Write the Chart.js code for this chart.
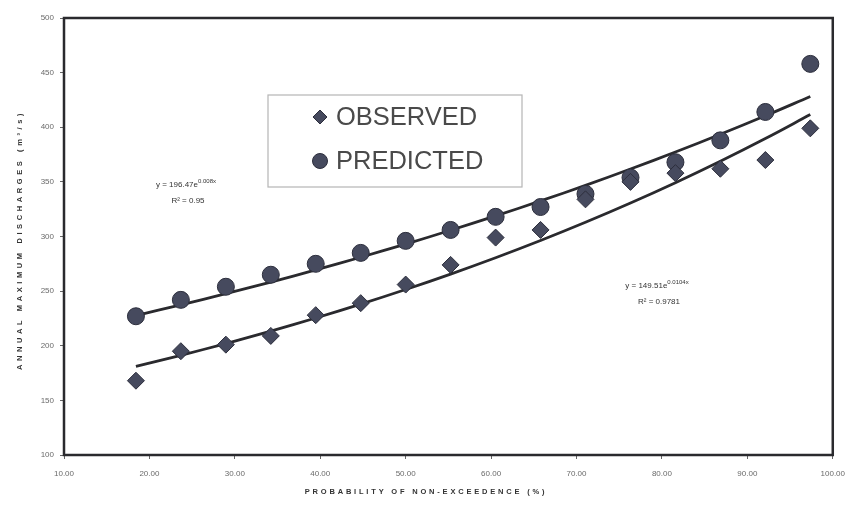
<!DOCTYPE html>
<html>
<head>
<meta charset="utf-8">
<title>Annual maximum discharges</title>
<script src="https://cdn.jsdelivr.net/npm/chart.js@4/dist/chart.umd.min.js"></script>
<style>
  html, body { margin: 0; padding: 0; background: #fff; }
  canvas { display: block; }
</style>
</head>
<body>
<canvas id="flows" width="855" height="513"></canvas>
<script>
// probability of non-exceedence (%) for each ranked year
const probability = [18.42, 23.68, 28.95, 34.21, 39.47, 44.74, 50.00, 55.26, 60.53, 65.79, 71.05, 76.32, 81.58, 86.84, 92.11, 97.37];
// annual maximum discharges (m3/s)
const observed = [168, 195, 201, 209, 228, 239, 256, 274, 299, 306, 334, 350, 358, 362, 370, 399];
const predicted = [227, 242, 254, 265, 275, 285, 296, 306, 318, 327, 339, 354, 368, 388, 414, 458];

// exponential trendlines y = a * e^(b x)
const observedFit = { a: 149.51, b: 0.0104, r2: '0.9781' };
const predictedFit = { a: 196.47, b: 0.008, r2: '0.95' };

const xTicks = [10, 20, 30, 40, 50, 60, 70, 80, 90, 100];
const yTicks = [100, 150, 200, 250, 300, 350, 400, 450, 500];

const INK = '#2a2a2e';
const MARK_FILL = '#464a5e';
const MARK_EDGE = '#2c2e3c';

const toPoints = (ys) => probability.map((x, i) => ({ x: x, y: ys[i] }));
const trend = (fit) => probability.map(x => ({ x: x, y: fit.a * Math.exp(fit.b * x) }));

// frame, legend box, equations and axis titles
const decorations = {
  id: 'decorations',
  beforeDatasetsDraw(chart) {
    const { ctx, chartArea: a } = chart;
    ctx.save();
    ctx.strokeStyle = INK;
    ctx.lineWidth = 2.5;
    ctx.strokeRect(a.left, a.top, a.right - a.left, a.bottom - a.top);
    ctx.restore();
  },
  afterDatasetsDraw(chart) {
    const { ctx } = chart;
    ctx.save();

    // legend
    ctx.fillStyle = '#fff';
    ctx.fillRect(268, 95, 254, 92);
    ctx.strokeStyle = '#b5b5b5';
    ctx.lineWidth = 1.2;
    ctx.strokeRect(268, 95, 254, 92);
    const entries = [chart.data.datasets[0], chart.data.datasets[1]];
    entries.forEach((ds, i) => {
      const cy = 117 + i * 44;
      ctx.fillStyle = MARK_FILL;
      ctx.strokeStyle = MARK_EDGE;
      ctx.lineWidth = 1;
      ctx.beginPath();
      if (ds.pointStyle === 'rectRot') {
        ctx.moveTo(320, cy - 7);
        ctx.lineTo(327, cy);
        ctx.lineTo(320, cy + 7);
        ctx.lineTo(313, cy);
        ctx.closePath();
      } else {
        ctx.arc(320, cy, 7.5, 0, Math.PI * 2);
      }
      ctx.fill();
      ctx.stroke();
      ctx.fillStyle = '#4a4a4a';
      ctx.font = '25.5px "Liberation Sans", Arial, sans-serif';
      ctx.textBaseline = 'middle';
      ctx.textAlign = 'left';
      ctx.fillText(ds.label, 336, cy + 1);
    });

    // trendline equations
    const equation = (fit, x, y) => {
      ctx.fillStyle = '#333';
      ctx.textBaseline = 'middle';
      ctx.textAlign = 'left';
      ctx.font = '8px "Liberation Sans", Arial, sans-serif';
      const base = 'y = ' + fit.a.toFixed(2) + 'e';
      const w = ctx.measureText(base).width;
      ctx.font = '6px "Liberation Sans", Arial, sans-serif';
      const sup = fit.b + 'x';
      const sw = ctx.measureText(sup).width;
      const start = x - (w + sw) / 2;
      ctx.font = '8px "Liberation Sans", Arial, sans-serif';
      ctx.fillText(base, start, y);
      ctx.font = '6px "Liberation Sans", Arial, sans-serif';
      ctx.fillText(sup, start + w, y - 4);
      ctx.font = '8px "Liberation Sans", Arial, sans-serif';
      ctx.textAlign = 'center';
      ctx.fillText('R\u00b2 = ' + fit.r2, x + 2, y + 16);
    };
    equation(predictedFit, 186, 185);
    equation(observedFit, 657, 286);

    // axis titles
    ctx.fillStyle = '#333';
    ctx.font = 'bold 7.5px "Liberation Sans", Arial, sans-serif';
    ctx.textAlign = 'center';
    ctx.textBaseline = 'middle';
    ctx.letterSpacing = '2.8px';
    ctx.fillText('PROBABILITY OF NON-EXCEEDENCE (%)', 426, 492);
    ctx.translate(20, 240);
    ctx.rotate(-Math.PI / 2);
    ctx.letterSpacing = '3.6px';
    ctx.fillText('ANNUAL MAXIMUM DISCHARGES (m\u00b3/s)', 0, 0);
    ctx.restore();
  }
};

const tickFont = { family: '"Liberation Sans", Arial, sans-serif', size: 8 };

const config = {
  type: 'scatter',
  data: {
    datasets: [
      {
        label: 'OBSERVED',
        data: toPoints(observed),
        pointStyle: 'rectRot',
        pointRadius: 8.5,
        backgroundColor: MARK_FILL,
        borderColor: MARK_EDGE,
        borderWidth: 1,
        order: 0,
      },
      {
        label: 'PREDICTED',
        data: toPoints(predicted),
        pointStyle: 'circle',
        pointRadius: 8.5,
        backgroundColor: MARK_FILL,
        borderColor: MARK_EDGE,
        borderWidth: 1,
        order: 0,
      },
      {
        label: 'observed trend',
        type: 'line',
        data: trend(observedFit),
        borderColor: INK,
        borderWidth: 2.8,
        pointRadius: 0,
        tension: 0.4,
        order: 1,
      },
      {
        label: 'predicted trend',
        type: 'line',
        data: trend(predictedFit),
        borderColor: INK,
        borderWidth: 2.8,
        pointRadius: 0,
        tension: 0.4,
        order: 1,
      },
    ],
  },
  options: {
    responsive: false,
    animation: false,
    devicePixelRatio: 1,
    layout: { padding: { left: 0, top: 18, right: 20, bottom: 0 } },
    plugins: {
      legend: { display: false },
      tooltip: { enabled: false },
    },
    scales: {
      x: {
        type: 'linear',
        min: 10,
        max: 100,
        afterBuildTicks: (scale) => { scale.ticks = xTicks.map(v => ({ value: v })); },
        afterFit: (scale) => { scale.height = 58; },
        ticks: {
          callback: (v) => v.toFixed(2),
          font: tickFont,
          color: '#6a6a6a',
          padding: 10,
          maxRotation: 0,
        },
        grid: { drawOnChartArea: false, drawTicks: true, tickLength: 4, color: '#666' },
        border: { display: false },
      },
      y: {
        min: 100,
        max: 500,
        afterBuildTicks: (scale) => { scale.ticks = yTicks.map(v => ({ value: v })); },
        afterFit: (scale) => { scale.width = 64; },
        ticks: {
          font: tickFont,
          color: '#6a6a6a',
          padding: 6,
        },
        grid: { drawOnChartArea: false, drawTicks: true, tickLength: 4, color: '#666' },
        border: { display: false },
      },
    },
  },
  plugins: [decorations],
};

const flowsCtx = document.getElementById('flows');
window.flowsChart = new Chart(flowsCtx, config);
</script>
</body>
</html>
